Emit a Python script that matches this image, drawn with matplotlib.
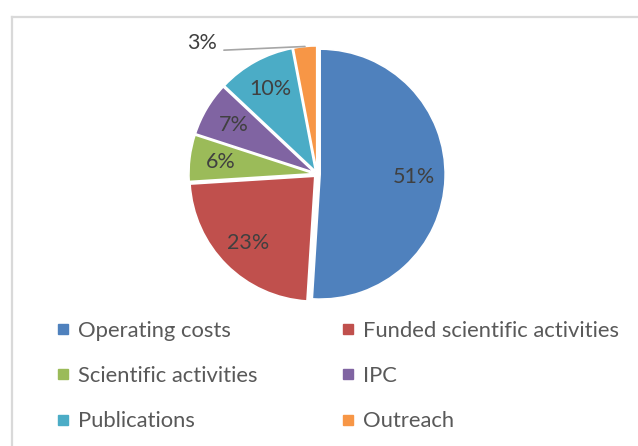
import matplotlib.pyplot as plt
import numpy as np
from matplotlib.lines import Line2D

categories = [
    "Operating costs",
    "Funded scientific activities",
    "Scientific activities",
    "IPC",
    "Publications",
    "Outreach",
]
shares = [51, 23, 6, 7, 10, 3]
colors = ["#4F81BD", "#C0504D", "#9BBB59", "#8064A2", "#4BACC6", "#F79646"]

plt.rcParams["font.family"] = ["Lato", "DejaVu Sans"]

fig = plt.figure(figsize=(6.38, 4.46), dpi=100)
fig.patch.set_facecolor("white")

# cadre gris clair (coin haut-gauche visible)
fig.add_artist(Line2D([11.5 / 638, 1.0], [1 - 17 / 446, 1 - 17 / 446],
                      transform=fig.transFigure, color="#D9D9D9", linewidth=1.6))
fig.add_artist(Line2D([11.5 / 638, 11.5 / 638], [0.0, 1 - 17 / 446],
                      transform=fig.transFigure, color="#D9D9D9", linewidth=1.6))

ax = fig.add_axes([0.2618, 0.2735, 0.4702, 0.6726])


def fmt_pct(p):
    return f"{p:.0f}%" if p >= 5 else ""


wedges, texts, autotexts = ax.pie(
    shares,
    colors=colors,
    startangle=90,
    counterclock=False,
    explode=[0.025] * len(shares),
    autopct=fmt_pct,
    pctdistance=0.75,
    wedgeprops=dict(edgecolor="white", linewidth=1.2),
    textprops=dict(color="#404040", fontsize=15.5),
    radius=1.0,
)
# pie() impose ses propres limites, on les remet après
ax.set_xlim(-1.2, 1.2)
ax.set_ylim(-1.2, 1.2)
ax.set_aspect("equal")
ax.axis("off")

# petite part : étiquette externe avec trait de rappel
for w, val in zip(wedges, shares):
    if val >= 5:
        continue
    ang = np.deg2rad((w.theta1 + w.theta2) / 2)
    cx, cy = w.center
    tip = (cx + w.r * np.cos(ang), cy + w.r * np.sin(ang))
    ax.annotate(
        f"{val}%",
        xy=tip,
        xytext=(-88, 3),
        textcoords="offset pixels",
        ha="right",
        va="center",
        fontsize=15.5,
        color="#404040",
        arrowprops=dict(arrowstyle="-", color="#A6A6A6", linewidth=1.2,
                        shrinkA=3, shrinkB=0, relpos=(1, 0.15)),
    )

handles = [
    Line2D([], [], marker="s", linestyle="none", markersize=7,
           markerfacecolor=c, markeredgecolor=c)
    for c in colors
]

legend_kw = dict(
    frameon=False,
    fontsize=15.8,
    handlelength=0.5,
    handletextpad=0.42,
    labelspacing=1.15,
    borderpad=0,
    borderaxespad=0,
    loc="center left",
    labelcolor="#595959",
)
fig.legend([handles[i] for i in (0, 2, 4)], [categories[i] for i in (0, 2, 4)],
           bbox_to_anchor=(58 / 638, 70 / 446), **legend_kw)
fig.legend([handles[i] for i in (1, 3, 5)], [categories[i] for i in (1, 3, 5)],
           bbox_to_anchor=(343 / 638, 70 / 446), **legend_kw)

plt.savefig("out.png", dpi=100)
plt.close()
